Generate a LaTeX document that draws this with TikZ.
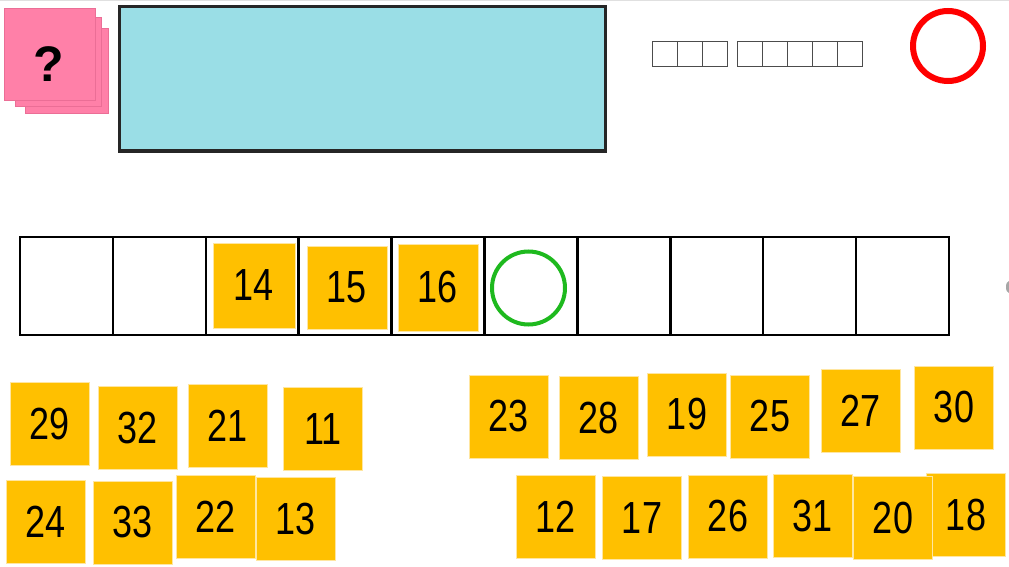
\documentclass[tikz,border=0pt]{standalone}
\usepackage{fontspec}
\setmainfont{Liberation Sans}
\newfontfamily\numfont[FakeStretch=0.8]{Liberation Sans}
\usetikzlibrary{positioning}
\definecolor{tileyellow}{RGB}{255,192,0}
\definecolor{tileedge}{RGB}{255,230,160}
\definecolor{cardpink}{RGB}{255,128,168}
\definecolor{cardedge}{RGB}{235,110,150}
\definecolor{boardblue}{RGB}{154,222,230}
\definecolor{okgreen}{RGB}{30,185,30}

\begin{document}
\begin{tikzpicture}
[x=1pt,y=-1pt,%
  tile/.style={rectangle,fill=tileyellow,draw=tileedge,line width=0.8pt,
    minimum width=79pt,minimum height=83pt,inner sep=0pt,
    font=\numfont\fontsize{45}{45}\selectfont},%
  card/.style={fill=cardpink,draw=cardedge,line width=0.6pt},%
  cell/.style={draw=black!70,line width=1pt}]
\useasboundingbox (0,0) rectangle (1009,567);
\draw[black!12,line width=1.5pt] (0,0.75) -- (1009,0.75);
% question cards
\draw[card] (25,28) rectangle (108,113);
\draw[card] (15,17) rectangle (101,106);
\draw[card] (4,8) rectangle (95,100);
\node[font=\bfseries\fontsize{50}{50}\selectfont] (ask) at (49,64) {?};
% answer board
\node[rectangle,draw=black!85,line width=3pt,fill=boardblue,
  minimum width=486pt,minimum height=144pt] (board) at (362,79) {};
% digit boxes
\foreach \i in {0,1,2}
  \draw[cell] (652+25*\i,42) rectangle ++(25,25);
\foreach \i in {0,...,4}
  \draw[cell] (737.5+25*\i,42) rectangle ++(25,25);
\node[circle,draw=red,line width=6pt,minimum size=70pt] (stop) at (948,46) {};
% number strip
\foreach \i in {1,...,10}
  \node[rectangle,draw=black,line width=2.5pt,minimum width=92.9pt,
    minimum height=98pt] (c\i) at (20+92.9*\i-46.45,286) {};
\node[tile,minimum width=82pt,minimum height=85pt] (t14) at (254,285.5) {14};
\node[tile,minimum width=80pt,minimum height=83pt] (t15) at (347,287.5) {15};
\node[tile,minimum width=80pt,minimum height=87pt] (t16) at (438,287.5) {16};
\node[circle,draw=okgreen,line width=4pt,minimum size=73pt] (gap) at (528.5,288) {};
% loose tiles
\foreach \n/\x/\y in {29/50/424, 32/137.5/428, 21/227.5/426, 11/323/429,
  24/45.5/522, 33/132.5/522.5, 22/215.5/516.5, 13/296/519,
  23/508.7/416.5, 28/598.5/418, 19/687/414.5, 25/770/416.5,
  27/860.5/410.5, 30/954/407.5, 12/555.4/516.5, 17/642/518,
  26/728/516.5, 31/812.4/516, 18/966/515, 20/893/518}
  \node[tile] (t\n) at (\x,\y) {\n};
\fill[black!35] (1009,281) arc (90:270:3pt and 6pt) -- cycle;
\end{tikzpicture}
\end{document}
